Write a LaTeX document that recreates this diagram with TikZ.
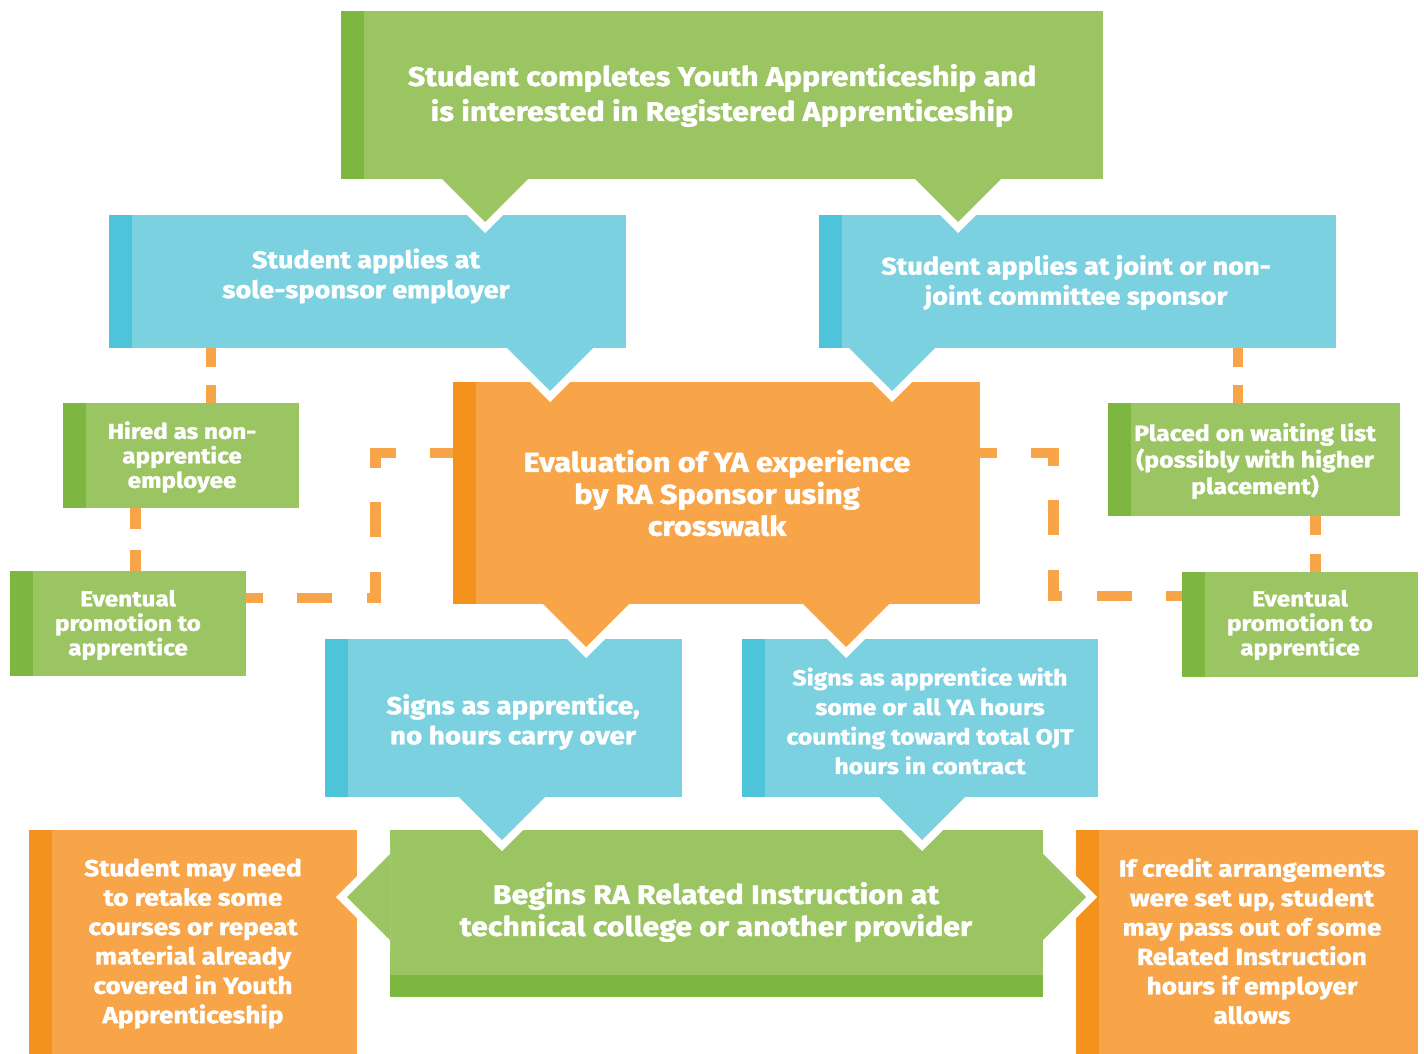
\documentclass[tikz,border=0pt]{standalone}
\usepackage{fontspec}
\setmainfont{Fira Sans}
\IfFontExistsTF{Fira Sans Heavy}
  {\newfontfamily\hfont{Fira Sans Heavy}[FakeStretch=1.06]}
  {\newfontfamily\hfont{Fira Sans Bold}[FakeStretch=1.13,FakeBold=1.5]}
\definecolor{gA}{HTML}{9BC462}
\definecolor{gD}{HTML}{7DB742}
\definecolor{bA}{HTML}{7CD1E1}
\definecolor{bD}{HTML}{4EC4DB}
\definecolor{oA}{HTML}{F8A54A}
\definecolor{oD}{HTML}{F4921E}
\tikzset{
  box/.style 2 args={fill=#1, draw=none, inner sep=0pt, anchor=north west,
    path picture={\fill[#2] (path picture bounding box.north west) rectangle ([xshift=23pt]path picture bounding box.south west);}},
  txt/.style={text=white, align=center, inner sep=0pt},
  conn/.style={draw=oA, line width=10.5pt},
}
\newcommand\dptr[3]{%
  \fill[white] (#2-54,#3) -- (#2,#3+54) -- (#2+54,#3) -- cycle;
  \fill[#1] (#2-43,#3) -- (#2,#3+43) -- (#2+43,#3) -- cycle;}
\newcommand\lptr[3]{%
  \fill[white] (#2,#3-54) -- (#2-54,#3) -- (#2,#3+54) -- cycle;
  \fill[#1] (#2,#3-43) -- (#2-43,#3) -- (#2,#3+43) -- cycle;}
\newcommand\rptr[3]{%
  \fill[white] (#2,#3-54) -- (#2+54,#3) -- (#2,#3+54) -- cycle;
  \fill[#1] (#2,#3-43) -- (#2+43,#3) -- (#2,#3+43) -- cycle;}
\begin{document}
\begin{tikzpicture}[x=1pt,y=-1pt]
\fill[white] (0,0) rectangle (1424,1054);
\useasboundingbox (0,0) rectangle (1424,1054);
% boxes
\node[box={gA}{gD}, minimum width=762pt, minimum height=168pt] (top) at (341,11) {};
\node[box={bA}{bD}, minimum width=517pt, minimum height=133pt] (bl) at (109,215) {};
\node[box={bA}{bD}, minimum width=517pt, minimum height=133pt] (br) at (819,215) {};
\node[box={oA}{oD}, minimum width=527pt, minimum height=222pt] (ev) at (453,382) {};
\node[box={gA}{gD}, minimum width=236pt, minimum height=105pt] (hired) at (63,403) {};
\node[box={gA}{gD}, minimum width=236pt, minimum height=105pt] (evl) at (10,571) {};
\node[box={gA}{gD}, minimum width=292pt, minimum height=113pt] (placed) at (1108,403) {};
\node[box={gA}{gD}, minimum width=236pt, minimum height=105pt] (evr) at (1182,572) {};
\node[box={bA}{bD}, minimum width=357pt, minimum height=158pt] (sbl) at (325,639) {};
\node[box={bA}{bD}, minimum width=356pt, minimum height=158pt] (sbr) at (742,639) {};
\node[fill=gA, draw=none, inner sep=0pt, anchor=north west, minimum width=653pt, minimum height=167pt,
  path picture={\fill[gD] ([yshift=22pt]path picture bounding box.south west) rectangle (path picture bounding box.south east);}] (begin) at (390,830) {};
\node[box={oA}{oD}, minimum width=328pt, minimum height=224pt] (ol) at (29,830) {};
\node[box={oA}{oD}, minimum width=342pt, minimum height=224pt] (or) at (1076,830) {};
% dashed connectors
\draw[conn, dash pattern=on 18.33pt off 18.33pt] (bl.south -| 211,0) -- (hired.north -| 211,0);
\draw[conn, dash pattern=on 21pt off 21pt] (hired.south -| 135.5,0) -- (evl.north -| 135.5,0);
\draw[conn, dash pattern=on 18.33pt off 18.33pt] (br.south -| 1238,0) -- (placed.north -| 1238,0);
\draw[conn, dash pattern=on 18.67pt off 18.67pt] (placed.south -| 1315.5,0) -- (evr.north -| 1315.5,0);
\draw[conn, dash pattern=on 35pt off 34.5pt, dash phase=18.5pt] (evl.east |- 0,598) -- (375.5,598) -- (375.5,453) -- (ev.west |- 0,453);
\draw[conn, dash pattern=on 35pt off 34.5pt, dash phase=18.5pt] (ev.east |- 0,453) -- (1053.5,453) -- (1053.5,596) -- (evr.west |- 0,596);
% pointers
\dptr{gA}{485}{179}
\dptr{gA}{958}{179}
\dptr{bA}{550}{348}
\dptr{bA}{892}{348}
\dptr{oA}{586}{604}
\dptr{oA}{846}{604}
\dptr{bA}{502}{797}
\dptr{bA}{922}{797}
\lptr{gA}{390}{897}
\rptr{gA}{1043}{897}
% texts
\node[txt, font=\hfont\fontsize{27}{35}\selectfont] (ttop) at (722,95.5) {Student completes Youth Apprenticeship and\\is interested in Registered Apprenticeship};
\node[txt, font=\hfont\fontsize{24}{30}\selectfont] (tbl) at (366,276) {Student applies at\\sole-sponsor employer};
\node[txt, font=\hfont\fontsize{24}{30}\selectfont] (tbr) at (1076,282.5) {Student applies at joint or non-\\joint committee sponsor};
\node[txt, font=\hfont\fontsize{27.2}{32}\selectfont] (tev) at (717,493) {Evaluation of YA experience\\by RA Sponsor using\\crosswalk};
\node[txt, font=\hfont\fontsize{21.5}{24.5}\selectfont] (thired) at (182,457) {Hired as non-\\apprentice\\employee};
\node[txt, font=\hfont\fontsize{21.5}{24.5}\selectfont] (tevl) at (128,625) {Eventual\\promotion to\\apprentice};
\node[txt, font=\hfont\fontsize{22}{26.5}\selectfont] (tplaced) at (1255,461) {Placed on waiting list\\(possibly with higher\\placement)};
\node[txt, font=\hfont\fontsize{21.5}{24.5}\selectfont] (tevr) at (1300,625) {Eventual\\promotion to\\apprentice};
\node[txt, font=\hfont\fontsize{24.6}{30}\selectfont] (tsbl) at (513,722) {Signs as apprentice,\\no hours carry over};
\node[txt, font=\hfont\fontsize{21.9}{29.5}\selectfont] (tsbr) at (930,721) {Signs as apprentice with\\some or all YA hours\\counting toward total OJT\\hours in contract};
\node[txt, font=\hfont\fontsize{26.9}{32}\selectfont] (tbegin) at (716,912) {Begins RA Related Instruction at\\technical college or another provider};
\node[txt, font=\hfont\fontsize{23.2}{29.4}\selectfont] (tol) at (193,943.5) {Student may need\\to retake some\\courses or repeat\\material already\\covered in Youth\\Apprenticeship};
\node[txt, font=\hfont\fontsize{23.2}{29.4}\selectfont] (tor) at (1252,941) {If credit arrangements\\were set up, student\\may pass out of some\\Related Instruction\\hours if employer\\allows};
\end{tikzpicture}
\end{document}
